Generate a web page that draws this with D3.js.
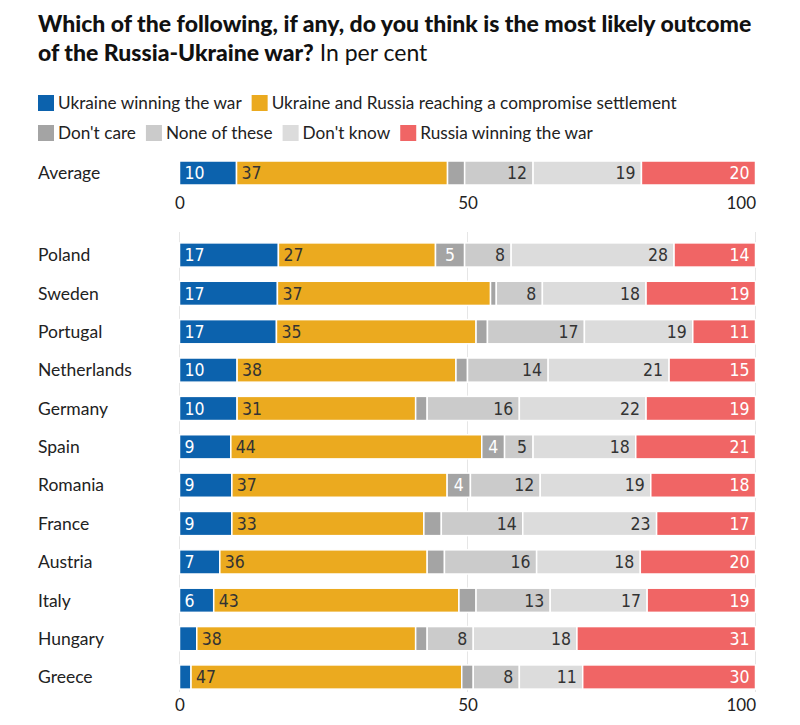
<!DOCTYPE html>
<html><head><meta charset="utf-8">
<script src="https://cdn.jsdelivr.net/npm/d3@7"></script>
<style>
body{margin:0;background:#fff;}
svg text{font-family:Lato,"Open Sans",sans-serif;}
.val{font-family:"Liberation Sans Narrow","DejaVu Sans Condensed",Roboto,sans-serif;font-size:17.5px;}
</style></head>
<body><svg id="c" width="800" height="725"></svg>
<script>
const countries = ["Poland","Sweden","Portugal","Netherlands","Germany","Spain","Romania","France","Austria","Italy","Hungary","Greece"];
const ukraineWin  = [17,17,17,10,10, 9, 9, 9, 7, 6, 3, 2];
const compromise  = [27,37,35,38,31,44,37,33,36,43,38,47];
const dontCare    = [ 5, 1, 2, 2, 2, 4, 4, 3, 3, 3, 2, 2];
const noneOfThese = [ 8, 8,17,14,16, 5,12,14,16,13, 8, 8];
const dontKnow    = [28,18,19,21,22,18,19,23,18,17,18,11];
const russiaWin   = [14,19,11,15,19,21,18,17,20,19,31,30];
const averageLabel = "Average";
const averageValues = [10,37,3,12,19,20];
const seriesNames = ["Ukraine winning the war","Ukraine and Russia reaching a compromise settlement","Don't care","None of these","Don't know","Russia winning the war"];
const seriesKeys = ["ukraineWin","compromise","dontCare","noneOfThese","dontKnow","russiaWin"];
const tickValues = [0,50,100];

const colors = ["#0c62ad","#ebaa1f","#a4a4a4","#cbcbcb","#dcdcdc","#f06565"];
const textColors = ["#fff","#333","#fff","#333","#333","#fff"];
const anchorMode = ["start","start","middle","end","end","end"];

const cols = [ukraineWin,compromise,dontCare,noneOfThese,dontKnow,russiaWin];
const rows = countries.map((c,i)=>{const o={name:c};seriesKeys.forEach((k,j)=>o[k]=cols[j][i]);return o;});
const avgRow = {name:averageLabel}; seriesKeys.forEach((k,j)=>avgRow[k]=averageValues[j]);

const svg = d3.select("#c");
const x = d3.scaleLinear().domain([0,1]).range([179.5,755.5]);
const stack = d3.stack().keys(seriesKeys).offset(d3.stackOffsetExpand);

// title
svg.append("text").attr("x",38).attr("y",32).attr("font-size",23).attr("font-weight",900).attr("fill","#111")
  .text("Which of the following, if any, do you think is the most likely outcome");
const t2 = svg.append("text").attr("x",38).attr("y",61).attr("font-size",23).attr("fill","#111");
t2.append("tspan").attr("font-weight",900).text("of the Russia-Ukraine war?");
t2.append("tspan").attr("font-weight",400).text(" In per cent");

// legend
const legendRows = [[0,1],[2,3,4,5]];
legendRows.forEach((r,ri)=>{
  let lx = 38; const ly = 95 + ri*30;
  r.forEach(j=>{
    svg.append("rect").attr("x",lx).attr("y",ly).attr("width",16).attr("height",16).attr("fill",colors[j]);
    const tx = svg.append("text").attr("x",lx+20).attr("y",ly+14).attr("font-size",17.2).attr("fill","#222").text(seriesNames[j]);
    lx += 20 + tx.node().getComputedTextLength() + 10;
  });
});

function drawRows(g, data, y){
  const st = stack(data);
  g.selectAll("text.cat").data(data).join("text").attr("class","cat")
    .attr("x",38).attr("y",d=>y(d.name)+y.bandwidth()/2).attr("dy","0.36em")
    .attr("font-size",17.5).attr("fill","#222").text(d=>d.name);
  st.forEach((s,j)=>{
    const gg = g.append("g");
    gg.selectAll("rect").data(s).join("rect")
      .attr("x",d=>x(d[0])).attr("width",d=>Math.max(0,x(d[1])-x(d[0])))
      .attr("y",d=>y(d.data.name)).attr("height",y.bandwidth())
      .attr("fill",colors[j]).attr("stroke","#fff").attr("stroke-width",1.5);
    gg.selectAll("text").data(s.filter(d=>d.data[seriesKeys[j]]>=4)).join("text")
      .attr("class","val")
      .attr("x",d=>anchorMode[j]==="start"?x(d[0])+5:anchorMode[j]==="middle"?(x(d[0])+x(d[1]))/2:x(d[1])-6)
      .attr("y",d=>y(d.data.name)+y.bandwidth()/2).attr("dy","0.36em")
      .attr("text-anchor",anchorMode[j]).attr("fill",textColors[j])
      .text(d=>d.data[seriesKeys[j]]);
  });
}
function drawAxis(yPos){
  const ax = svg.append("g").attr("transform",`translate(0,${yPos})`)
    .call(d3.axisBottom(x).tickValues(tickValues.map(v=>v/100)).tickFormat(d=>Math.round(d*100)).tickSize(0).tickPadding(0));
  ax.select(".domain").remove();
  ax.selectAll("text").attr("font-size",17).attr("fill","#222").attr("font-family","Lato,sans-serif");
  ax.selectAll(".tick:last-child text").attr("text-anchor","end");
}

// average
const yAvg = d3.scaleBand().domain([averageLabel]).range([161,185]);
drawRows(svg.append("g"), [avgRow], yAvg);
drawAxis(197);

// countries
const y = d3.scaleBand().domain(countries).range([235.8,696.2]).paddingInner(0.37).paddingOuter(0.185);
svg.append("g").selectAll("line").data(tickValues).join("line")
  .attr("x1",d=>x(d/100)).attr("x2",d=>x(d/100)).attr("y1",232).attr("y2",692)
  .attr("stroke","#e6e6e6").attr("stroke-width",1);
drawRows(svg.append("g"), rows, y);
drawAxis(699);
</script></body></html>
